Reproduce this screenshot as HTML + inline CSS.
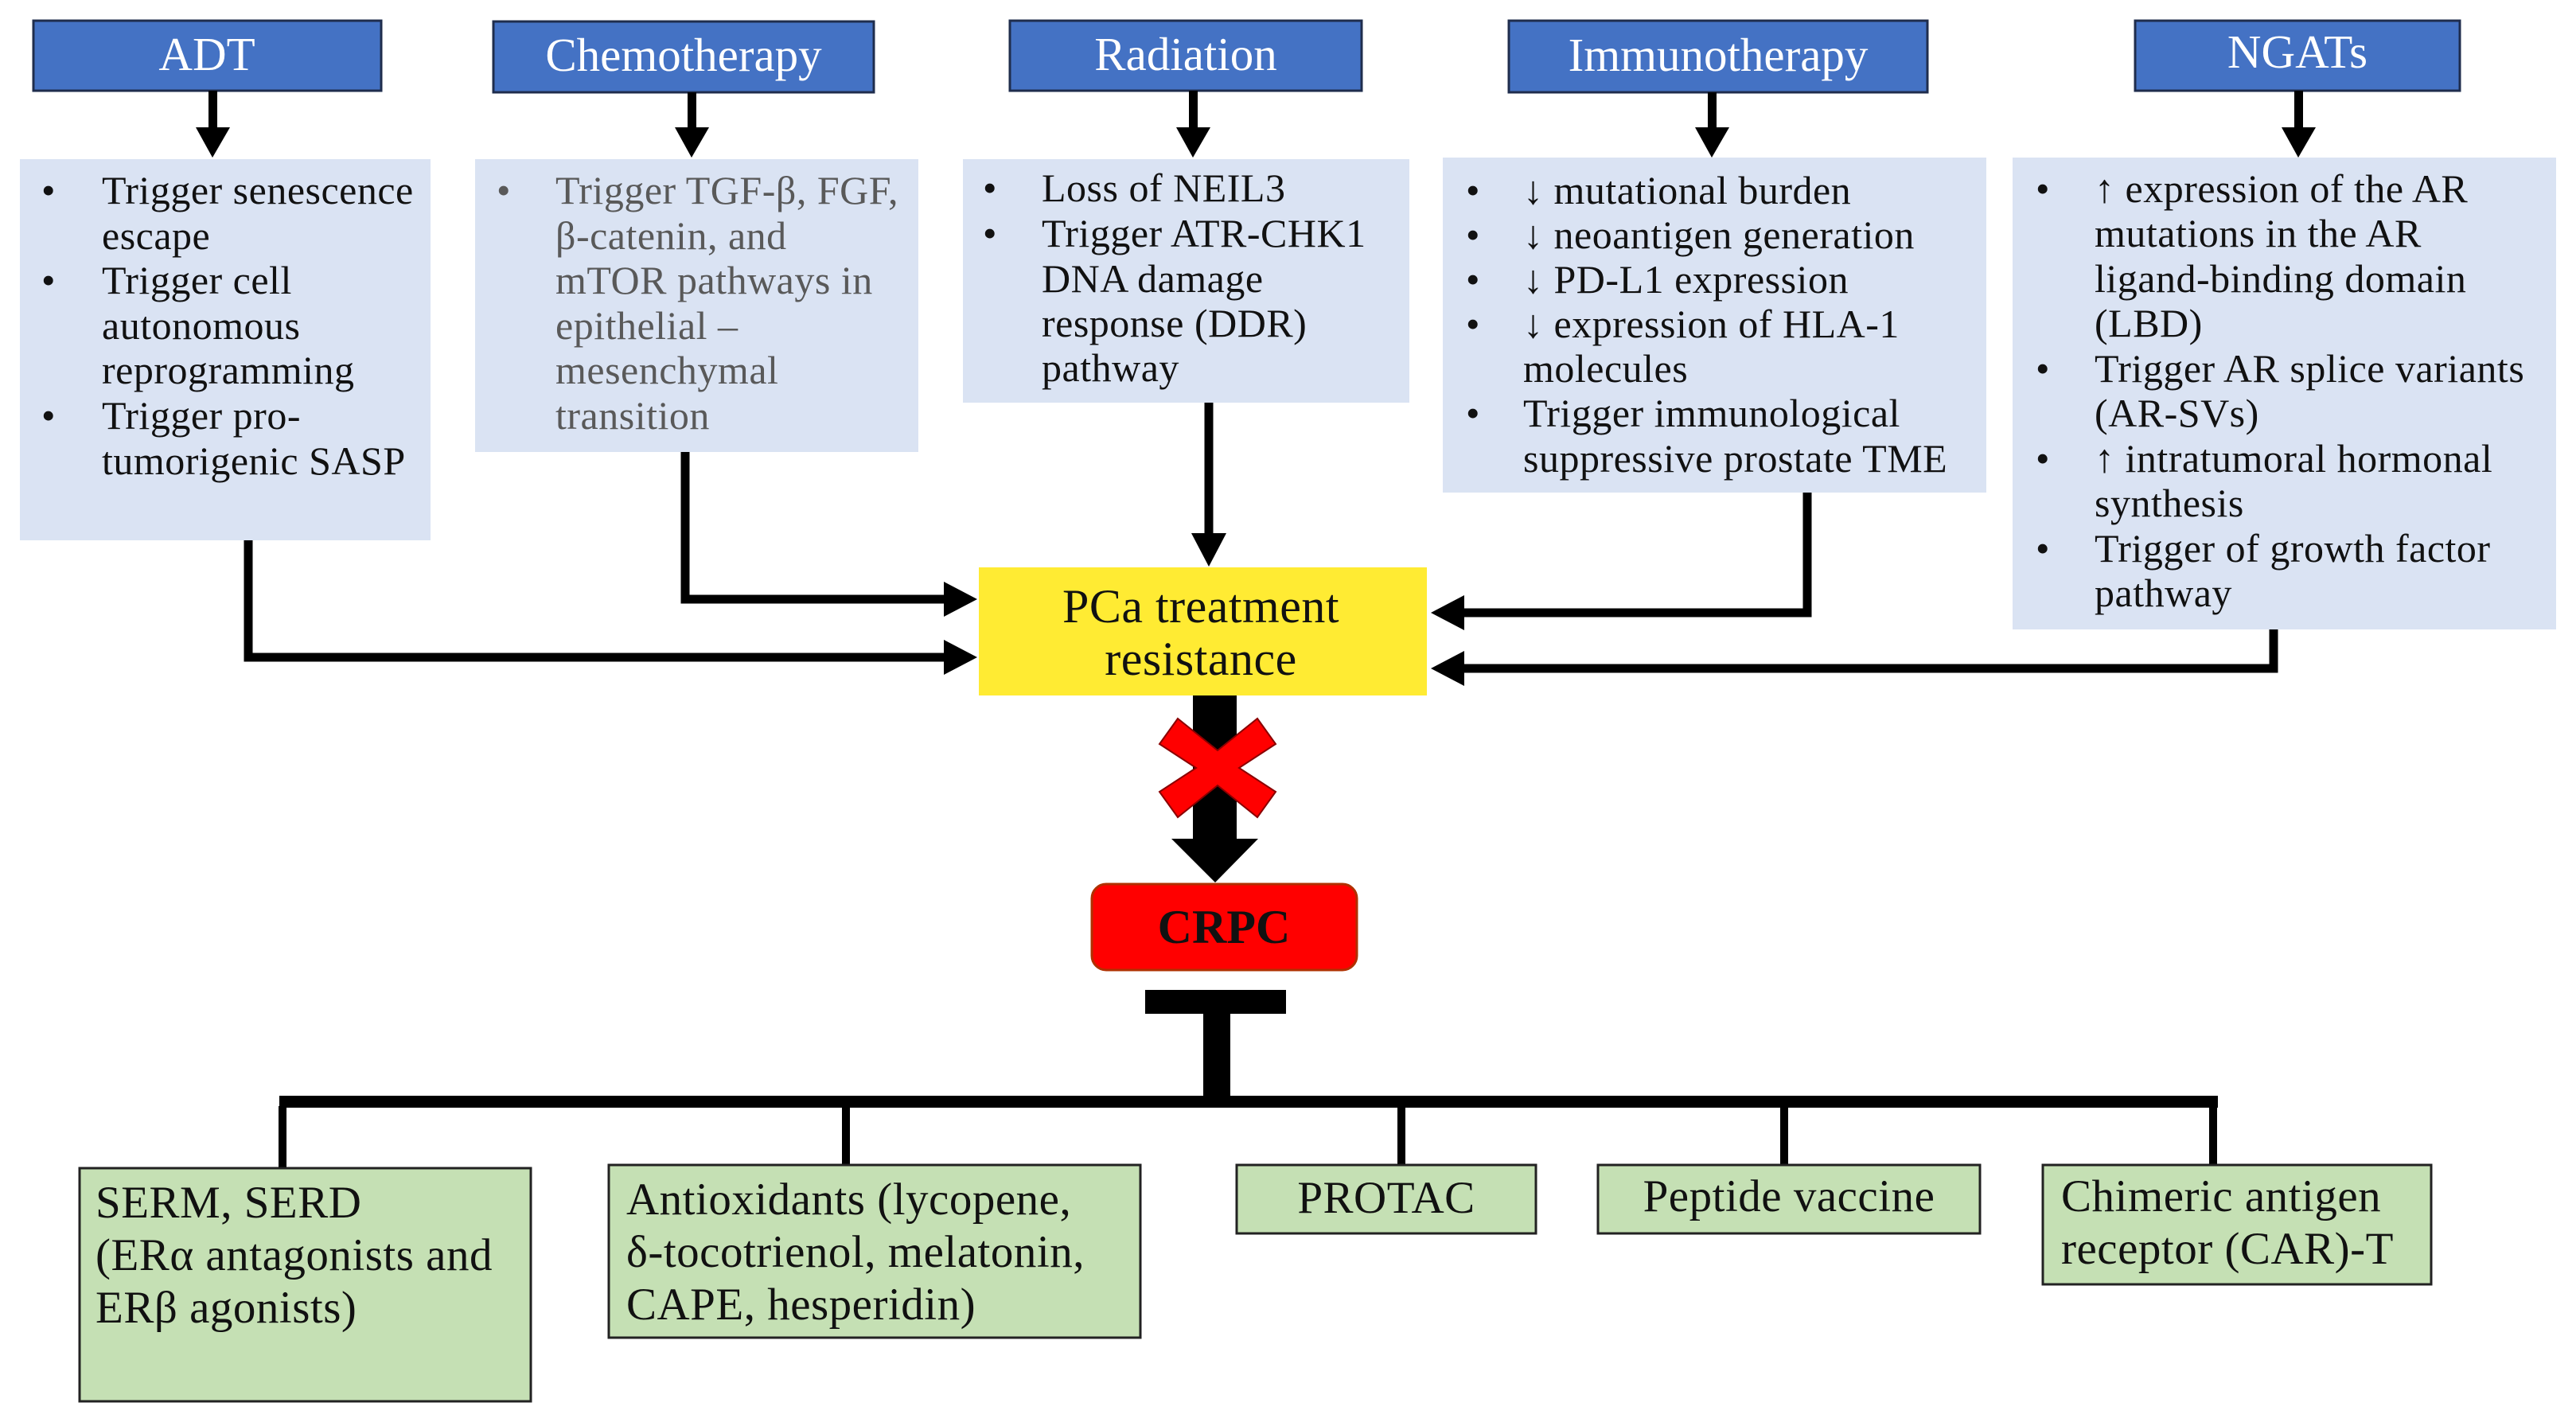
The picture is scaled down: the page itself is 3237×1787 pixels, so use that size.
<!DOCTYPE html>
<html><head><meta charset="utf-8"><style>
html,body{margin:0;padding:0;background:#fff}
svg{display:block}
text{font-family:"Liberation Serif",serif}
.h{fill:#fff;font-size:59px;text-anchor:middle}
.b{fill:#111;font-size:50px;letter-spacing:0.5px}
.g{fill:#595959;font-size:50px;letter-spacing:0.5px}
.t{fill:#111;font-size:57px;letter-spacing:0.5px}
</style></head><body>
<svg width="3237" height="1787" viewBox="0 0 3237 1787" xmlns="http://www.w3.org/2000/svg">
<g fill="#4472C4" stroke="#1f2d4d" stroke-width="3">
<rect x="42" y="26" width="437" height="88"/>
<rect x="620" y="27" width="478" height="89"/>
<rect x="1269" y="26" width="442" height="88"/>
<rect x="1896" y="26" width="526" height="90"/>
<rect x="2683" y="26" width="408" height="88"/>
</g>
<text class="h" x="260" y="88">ADT</text>
<text class="h" x="859" y="89">Chemotherapy</text>
<text class="h" x="1490" y="88">Radiation</text>
<text class="h" x="2159" y="89">Immunotherapy</text>
<text class="h" x="2887" y="85">NGATs</text>
<g fill="#000">
<rect x="262" y="114" width="11" height="48"/><polygon points="246,160 289,160 267,198"/>
<rect x="864" y="116" width="11" height="46"/><polygon points="848,160 891,160 869,198"/>
<rect x="1494" y="114" width="11" height="48"/><polygon points="1478,160 1521,160 1499,198"/>
<rect x="2146" y="116" width="11" height="46"/><polygon points="2130,160 2173,160 2151,198"/>
<rect x="2883" y="114" width="11" height="48"/><polygon points="2867,160 2910,160 2888,198"/>
</g>
<g fill="#DAE3F3">
<rect x="25" y="200" width="516" height="479"/>
<rect x="597" y="200" width="557" height="368"/>
<rect x="1210" y="200" width="561" height="306"/>
<rect x="1813" y="198" width="683" height="421"/>
<rect x="2529" y="198" width="683" height="593"/>
</g>
<g class="b">
<text x="52" y="256">•</text><text x="128" y="256">Trigger senescence</text>
<text x="128" y="313">escape</text>
<text x="52" y="369">•</text><text x="128" y="369">Trigger cell</text>
<text x="128" y="426">autonomous</text>
<text x="128" y="482">reprogramming</text>
<text x="52" y="539">•</text><text x="128" y="539">Trigger pro-</text>
<text x="128" y="596">tumorigenic SASP</text>
</g>
<g class="g">
<text x="624" y="256">•</text><text x="698" y="256">Trigger TGF-β, FGF,</text>
<text x="698" y="313">β-catenin, and</text>
<text x="698" y="369">mTOR pathways in</text>
<text x="698" y="426">epithelial –</text>
<text x="698" y="482">mesenchymal</text>
<text x="698" y="539">transition</text>
</g>
<g class="b">
<text x="1235" y="253">•</text><text x="1309" y="253">Loss of NEIL3</text>
<text x="1235" y="310">•</text><text x="1309" y="310">Trigger ATR-CHK1</text>
<text x="1309" y="367">DNA damage</text>
<text x="1309" y="423">response (DDR)</text>
<text x="1309" y="479">pathway</text>
</g>
<g class="b">
<text x="1842" y="256">•</text><text x="1914" y="256">↓ mutational burden</text>
<text x="1842" y="312">•</text><text x="1914" y="312">↓ neoantigen generation</text>
<text x="1842" y="368">•</text><text x="1914" y="368">↓ PD-L1 expression</text>
<text x="1842" y="424">•</text><text x="1914" y="424">↓ expression of HLA-1</text>
<text x="1914" y="480">molecules</text>
<text x="1842" y="536">•</text><text x="1914" y="536">Trigger immunological</text>
<text x="1914" y="593">suppressive prostate TME</text>
</g>
<g class="b">
<text x="2558" y="254">•</text><text x="2632" y="254">↑ expression of the AR</text>
<text x="2632" y="310">mutations in the AR</text>
<text x="2632" y="367">ligand-binding domain</text>
<text x="2632" y="423">(LBD)</text>
<text x="2558" y="480">•</text><text x="2632" y="480">Trigger AR splice variants</text>
<text x="2632" y="536">(AR-SVs)</text>
<text x="2558" y="593">•</text><text x="2632" y="593">↑ intratumoral hormonal</text>
<text x="2632" y="649">synthesis</text>
<text x="2558" y="706">•</text><text x="2632" y="706">Trigger of growth factor</text>
<text x="2632" y="762">pathway</text>
</g>
<rect x="1230" y="713" width="563" height="161" fill="#FFEB33"/>
<text x="1509" y="782" font-size="60" text-anchor="middle" fill="#111" letter-spacing="0.5">PCa treatment</text>
<text x="1509" y="848" font-size="60" text-anchor="middle" fill="#111" letter-spacing="0.5">resistance</text>
<g fill="none" stroke="#000" stroke-width="11">
<polyline points="312,679 312,826 1190,826"/>
<polyline points="861,568 861,753 1190,753"/>
<polyline points="1519,506 1519,672"/>
<polyline points="2271,619 2271,770 1838,770"/>
<polyline points="2857,791 2857,840 1838,840"/>
</g>
<g fill="#000">
<polygon points="1186,804 1228,826 1186,848"/>
<polygon points="1186,731 1228,753 1186,775"/>
<polygon points="1497,670 1541,670 1519,712"/>
<polygon points="1840,748 1798,770 1840,792"/>
<polygon points="1840,818 1798,840 1840,862"/>
<rect x="1499" y="874" width="55" height="182"/>
<polygon points="1472,1054 1581,1054 1527,1109"/>
</g>
<g transform="translate(1530,965)">
<polygon fill="#FF0000" stroke="#8a0000" stroke-width="2" points="-50,-62 0,-22 50,-62 73,-30 27,0 73,30 50,62 0,22 -50,62 -73,30 -27,0 -73,-30"/>
</g>
<rect x="1372" y="1111" width="333" height="108" rx="18" fill="#FF0000" stroke="#b03000" stroke-width="3"/>
<text x="1538" y="1185" font-size="60" font-weight="bold" text-anchor="middle" fill="#111">CRPC</text>
<g fill="#000">
<rect x="1439" y="1244" width="177" height="30"/>
<rect x="1512" y="1274" width="34" height="112"/>
<rect x="351" y="1377" width="2436" height="15"/>
<rect x="350" y="1390" width="10" height="78"/>
<rect x="1058" y="1390" width="10" height="76"/>
<rect x="1756" y="1390" width="10" height="76"/>
<rect x="2237" y="1390" width="10" height="76"/>
<rect x="2776" y="1390" width="10" height="76"/>
</g>
<g fill="#C5E0B4" stroke="#222" stroke-width="3">
<rect x="100" y="1468" width="567" height="293"/>
<rect x="765" y="1464" width="668" height="217"/>
<rect x="1554" y="1464" width="376" height="86"/>
<rect x="2008" y="1464" width="480" height="86"/>
<rect x="2567" y="1464" width="488" height="150"/>
</g>
<g class="t">
<text x="120" y="1530">SERM, SERD</text>
<text x="120" y="1596">(ERα antagonists and</text>
<text x="120" y="1662">ERβ agonists)</text>
<text x="787" y="1526">Antioxidants (lycopene,</text>
<text x="787" y="1592">δ-tocotrienol, melatonin,</text>
<text x="787" y="1658">CAPE, hesperidin)</text>
<text x="1742" y="1524" text-anchor="middle">PROTAC</text>
<text x="2248" y="1522" text-anchor="middle">Peptide vaccine</text>
<text x="2590" y="1522">Chimeric antigen</text>
<text x="2590" y="1588">receptor (CAR)-T</text>
</g>
</svg>
</body></html>
